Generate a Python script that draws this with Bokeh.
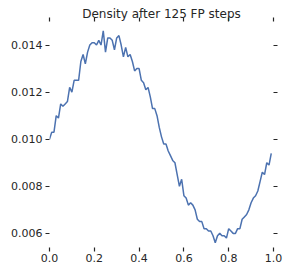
from bokeh.plotting import figure
from bokeh.models import LinearAxis, FixedTicker, Range1d, CustomJSTickFormatter
from bokeh.embed import file_html
from bokeh.resources import INLINE

title_text = "Density after 125 FP steps"
x_vals = [round(i * 0.01, 2) for i in range(100)]
density = [
    0.0100, 0.0103, 0.0103, 0.0110, 0.0109, 0.0115, 0.0114, 0.0115, 0.0116, 0.0122,
    0.0120, 0.0125, 0.0125, 0.0125, 0.0133, 0.0136, 0.0132, 0.0137, 0.0140, 0.0141,
    0.0141, 0.0140, 0.0142, 0.0140, 0.0146, 0.0137, 0.0143, 0.0143, 0.0142, 0.0138,
    0.0143, 0.0144, 0.0140, 0.0135, 0.0139, 0.0135, 0.0136, 0.0133, 0.0129, 0.0130,
    0.0130, 0.0125, 0.0124, 0.0121, 0.0122, 0.0118, 0.0113, 0.0113, 0.0110, 0.0105,
    0.0101, 0.0098, 0.0098, 0.0095, 0.0093, 0.0091, 0.0090, 0.0085, 0.0080, 0.0083,
    0.0076, 0.0075, 0.0072, 0.0073, 0.0072, 0.0070, 0.0066, 0.0065, 0.0065, 0.0062,
    0.0062, 0.0061, 0.0061, 0.0059, 0.0056, 0.0059, 0.0060, 0.0059, 0.0059, 0.0058,
    0.0062, 0.0061, 0.0060, 0.0060, 0.0062, 0.0062, 0.0066, 0.0067, 0.0068, 0.0070,
    0.0073, 0.0075, 0.0076, 0.0078, 0.0082, 0.0086, 0.0085, 0.0090, 0.0089, 0.0094,
]
x_ticks = [0.0, 0.2, 0.4, 0.6, 0.8, 1.0]
y_ticks = [0.006, 0.008, 0.010, 0.012, 0.014]

TXT = "#262626"
FONT = "DejaVu Sans"

p = figure(width=287, height=272, output_backend="svg", toolbar_location=None,
           x_range=Range1d(0, 1), y_range=Range1d(0.0054, 0.0150),
           x_axis_location=None, y_axis_location=None,
           min_border_left=49, min_border_right=14, min_border_top=21, min_border_bottom=25)
p.title.text = title_text
p.title.align = "center"
p.title.text_font = FONT
p.title.text_font_size = "12px"
p.title.text_font_style = "normal"
p.title.text_color = TXT
p.title.standoff = -6
p.outline_line_color = None
p.xgrid.visible = False
p.ygrid.visible = False
p.background_fill_color = "white"
p.border_fill_color = "white"

def style(ax, code, standoff):
    ax.axis_line_color = None
    ax.major_tick_line_color = TXT
    ax.major_tick_line_width = 1.2
    ax.major_tick_in = 0
    ax.major_tick_out = 4
    ax.minor_tick_line_color = None
    ax.major_label_text_font = FONT
    ax.major_label_text_font_size = "11px"
    ax.major_label_text_color = TXT
    ax.major_label_standoff = standoff
    ax.formatter = CustomJSTickFormatter(code=code)

bottom = LinearAxis(ticker=FixedTicker(ticks=x_ticks))
top = LinearAxis(ticker=FixedTicker(ticks=x_ticks))
left = LinearAxis(ticker=FixedTicker(ticks=y_ticks))
right = LinearAxis(ticker=FixedTicker(ticks=y_ticks))
style(bottom, "return tick.toFixed(1);", 2)
style(left, "return tick.toFixed(3);", 3)
style(top, "return '';", 0)
style(right, "return '';", 0)
p.add_layout(bottom, "below")
p.add_layout(left, "left")
p.add_layout(top, "above")
p.add_layout(right, "right")

p.line(x_vals, density, line_color="#4C72B0", line_width=1.5)

open("out.html", "w").write(file_html(p, INLINE))
